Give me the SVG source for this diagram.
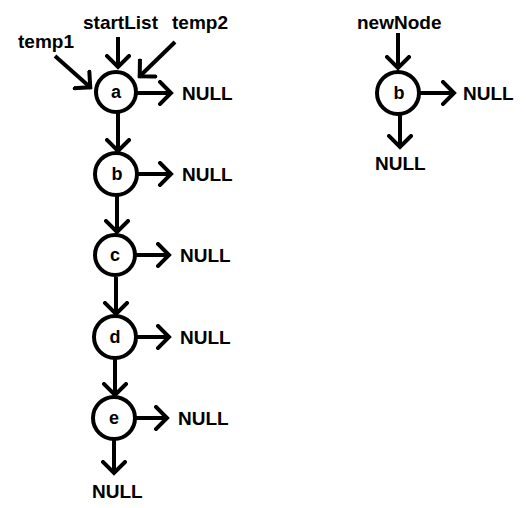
<svg xmlns="http://www.w3.org/2000/svg" width="531" height="508" viewBox="0 0 531 508">
<defs>
<marker id="ah" markerUnits="userSpaceOnUse" markerWidth="16" markerHeight="26" viewBox="0 0 16 26" refX="14" refY="13" orient="auto">
<path d="M2,2 L13,13 L2,24" fill="none" stroke="#000" stroke-width="4" stroke-linecap="square"/>
</marker>
<style>
.c{fill:#fff;stroke:#000;stroke-width:4}
.l{font-family:"Liberation Sans",Arial,sans-serif;font-weight:bold;font-size:18px;text-anchor:middle;fill:#000}
.t{font-family:"Liberation Sans",Arial,sans-serif;font-weight:bold;font-size:19px;fill:#000}
.e{stroke:#000;stroke-width:4;fill:none;marker-end:url(#ah)}
</style>
</defs>
<rect width="531" height="508" fill="#fff"/>
<g id="connectors">
<line class="e" x1="118" y1="37" x2="118" y2="68"/>
<line class="e" x1="55" y1="56" x2="91" y2="88"/>
<line class="e" x1="175" y1="42" x2="139" y2="77"/>
<line class="e" x1="137" y1="93" x2="172" y2="93"/>
<line class="e" x1="118" y1="113" x2="118" y2="152"/>
<line class="e" x1="137" y1="174" x2="172" y2="174"/>
<line class="e" x1="117" y1="196" x2="117" y2="233"/>
<line class="e" x1="136" y1="255" x2="170" y2="255"/>
<line class="e" x1="116" y1="277" x2="116" y2="315"/>
<line class="e" x1="136" y1="337" x2="170" y2="337"/>
<line class="e" x1="115" y1="358" x2="115" y2="396"/>
<line class="e" x1="134" y1="418" x2="168" y2="418"/>
<line class="e" x1="114" y1="439" x2="114" y2="474"/>
<line class="e" x1="398" y1="33" x2="398" y2="69"/>
<line class="e" x1="418" y1="93" x2="455" y2="93"/>
<line class="e" x1="400" y1="114" x2="400" y2="148"/>
</g>
<g id="label-startList"><text class="t" x="83" y="29">startList</text></g>
<g id="label-temp1"><text class="t" x="18" y="48">temp1</text></g>
<g id="label-temp2"><text class="t" x="172" y="29">temp2</text></g>
<g id="label-newNode"><text class="t" x="357" y="29">newNode</text></g>
<g id="node-a"><circle class="c" cx="116" cy="92" r="20"/><text class="l" x="116" y="98">a</text></g>
<g id="null-a"><text class="t" x="182" y="100">NULL</text></g>
<g id="node-b"><circle class="c" cx="116" cy="174" r="21"/><text class="l" x="117" y="180">b</text></g>
<g id="null-b"><text class="t" x="182" y="181">NULL</text></g>
<g id="node-c"><circle class="c" cx="115" cy="255" r="20"/><text class="l" x="115" y="261">c</text></g>
<g id="null-c"><text class="t" x="180" y="262">NULL</text></g>
<g id="node-d"><circle class="c" cx="115" cy="337" r="21"/><text class="l" x="115" y="343">d</text></g>
<g id="null-d"><text class="t" x="180" y="344">NULL</text></g>
<g id="node-e"><circle class="c" cx="114" cy="418" r="21"/><text class="l" x="114" y="424">e</text></g>
<g id="null-e"><text class="t" x="178" y="425">NULL</text></g>
<g id="null-e-next"><text class="t" x="92" y="498">NULL</text></g>
<g id="node-newb"><circle class="c" cx="398" cy="93" r="21"/><text class="l" x="399" y="99">b</text></g>
<g id="null-newb-right"><text class="t" x="463" y="100">NULL</text></g>
<g id="null-newb-down"><text class="t" x="375" y="170">NULL</text></g>
</svg>
